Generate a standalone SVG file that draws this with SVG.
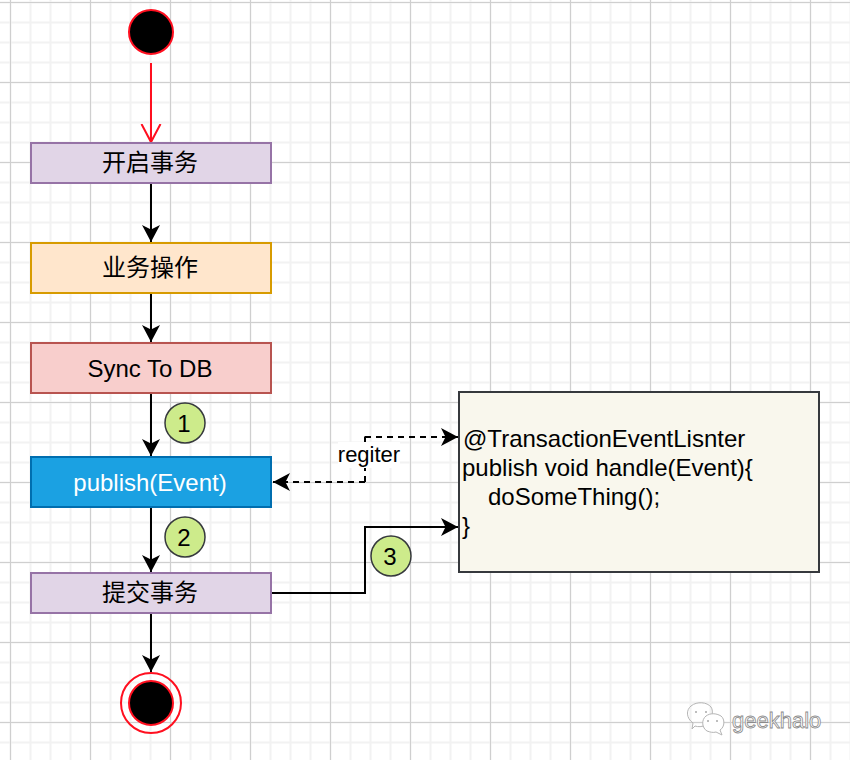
<svg xmlns="http://www.w3.org/2000/svg" width="850" height="760" viewBox="0 0 850 760">
<style>
text{font-family:"Liberation Sans","Noto Sans CJK SC",sans-serif;font-size:24px;fill:#000}
.c{text-anchor:middle}
.edge{fill:none;stroke:#000;stroke-width:2}
.dash{stroke-dasharray:6 5}
.badge{fill:#cdeb8b;stroke:#36393d;stroke-width:1.5}
.n{stroke-width:2}
.red{stroke:#ff0f1f;stroke-width:2}
.wm{fill:#fff;stroke:#b5b5b5;stroke-width:1}
.eye{fill:#a8a8a8}
</style>
<defs>
<pattern id="minor" width="20" height="20" patternUnits="userSpaceOnUse" x="9" y="1">
<path d="M1.500 0V20M0 1.500H20" fill="none" stroke="#f2f2f2" stroke-width="2"/>
</pattern>
<pattern id="major" width="80" height="80" patternUnits="userSpaceOnUse" x="9" y="1">
<path d="M1.500 0V80M0 1.500H80" fill="none" stroke="#cfcfcf" stroke-width="1"/>
</pattern>
<marker id="a" markerUnits="userSpaceOnUse" markerWidth="20" markerHeight="20" refX="17" refY="9" orient="auto">
<path d="M0 0L17 9L0 18L4.500 9Z" fill="#000"/>
</marker>
<marker id="o" markerUnits="userSpaceOnUse" markerWidth="22" markerHeight="24" refX="18" refY="11" orient="auto">
<path d="M0 1.500L18 11L0 20.500" fill="none" stroke="#ff0f1f" stroke-width="2"/>
</marker>
</defs>
<rect width="850" height="760" fill="#fff"/>
<rect width="850" height="760" fill="url(#minor)"/>
<rect width="850" height="760" fill="url(#major)"/>
<g id="connectors">
<path d="M151 63V142" fill="none" stroke="#ff0f1f" stroke-width="2" marker-end="url(#o)"/>
<path class="edge" d="M151 184V242" marker-end="url(#a)"/>
<path class="edge" d="M151 294V342" marker-end="url(#a)"/>
<path class="edge" d="M151 394V456" marker-end="url(#a)"/>
<path class="edge" d="M151 508V572" marker-end="url(#a)"/>
<path class="edge" d="M151 614V672" marker-end="url(#a)"/>
<path class="edge" d="M272 593H365V527H458" marker-end="url(#a)"/>
<path class="edge dash" d="M365 482H273" marker-end="url(#a)"/>
<path class="edge dash" d="M365 482V442"/>
<path class="edge dash" d="M365 436.500V443M365 437H458" marker-end="url(#a)"/>
<rect x="338" y="442" width="62" height="26" fill="#fff"/>
<text class="c" x="369" y="462" style="font-size:22px">regiter</text>
</g>
<g id="start"><circle class="red" cx="151" cy="32" r="22"/></g>
<g id="begin-tx"><rect class="n" x="31" y="143" width="240" height="40" fill="#e1d5e7" stroke="#9673a6"/><text class="c" x="150" y="171">开启事务</text></g>
<g id="business"><rect class="n" x="31" y="243" width="240" height="50" fill="#ffe6cc" stroke="#d79b00"/><text class="c" x="150" y="276">业务操作</text></g>
<g id="sync"><rect class="n" x="31" y="343" width="240" height="50" fill="#f8cecc" stroke="#b85450"/><text class="c" x="150" y="377">Sync To DB</text></g>
<g id="publish"><rect class="n" x="31" y="457" width="240" height="50" fill="#1ba1e2" stroke="#006eaf"/><text class="c" x="150" y="491" style="fill:#fff">publish(Event)</text></g>
<g id="commit-tx"><rect class="n" x="31" y="573" width="240" height="40" fill="#e1d5e7" stroke="#9673a6"/><text class="c" x="150" y="601">提交事务</text></g>
<g id="end"><circle cx="151" cy="703" r="30" fill="none" stroke="#ff0f1f" stroke-width="2"/><circle class="red" cx="151" cy="703" r="22"/></g>
<g id="handler"><rect x="459" y="392" width="360" height="180" fill="#f9f7ed" stroke="#36393d" stroke-width="2"/>
<text x="463" y="447">@TransactionEventLisnter</text>
<text x="462" y="476">publish void handle(Event){</text>
<text x="488" y="505">doSomeThing();</text>
<text x="462" y="534">}</text></g>
<g id="badge1"><circle class="badge" cx="185" cy="423" r="20"/><text class="c" x="184" y="432">1</text></g>
<g id="badge2"><circle class="badge" cx="185" cy="537" r="20"/><text class="c" x="184" y="546">2</text></g>
<g id="badge3"><circle class="badge" cx="391" cy="556" r="20"/><text class="c" x="390" y="565">3</text></g>
<g id="watermark">
<path class="wm" d="M695 726L692 729L693 723C686 718 686 710 691 706C697 701 707 702 711 707C714 711 712 722 706 725C702 727 698 727 695 726Z" fill-opacity="0"/>
<path class="wm" d="M716 732L722 735L720 730C725 727 725 719 721 716C716 713 710 713 706 716C701 720 702 728 707 731C710 732 713 733 716 732Z"/>
<circle class="eye" cx="696" cy="712" r="1"/><circle class="eye" cx="706" cy="712" r="1"/>
<circle class="eye" cx="708" cy="721" r="1"/><circle class="eye" cx="717" cy="721" r="1"/>
<text x="732" y="728" style="font-size:22px;fill:#fff;stroke:#8a8a8a;stroke-width:.8">geekhalo</text>
</g>
</svg>
